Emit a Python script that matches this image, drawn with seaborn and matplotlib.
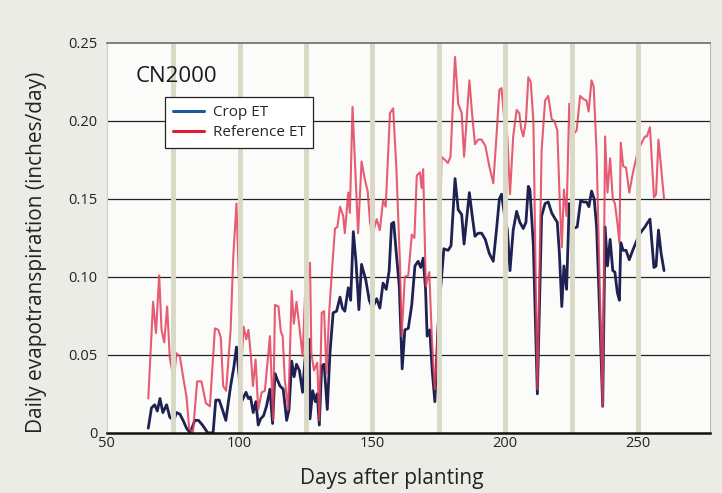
import seaborn as sns
import matplotlib.pyplot as plt
from matplotlib.lines import Line2D
import pandas

# datos (dia, valor)
dias_ref = [65.6, 67.4, 68.5, 69.7, 70.6, 71.6, 72.7, 73.7, 75.2, 76.2, 77.5, 78.7, 80.0, 81.0, 82.4,
            84.0, 85.6, 87.3, 88.8, 90.7, 92.0, 92.9, 93.8, 94.9, 96.6, 97.6, 98.8, 100.7, 101.5, 102.5,
            103.3, 104.2, 105.0, 106.0, 107.0, 108.3, 109.5, 111.4, 112.6, 113.3, 114.6, 115.5, 116.2, 117.0,
            118.3, 119.6, 120.4, 121.4, 122.5, 123.7, 124.6, 126.5, 127.0, 128.0, 129.2, 130.0, 130.9, 131.8,
            132.7, 133.7, 134.6, 135.9, 136.8, 137.8, 139.0, 139.6, 140.9, 141.5, 142.5, 143.5, 144.6, 145.9,
            147.2, 148.2, 149.1, 150.0, 151.6, 152.8, 154.0, 155.0, 156.6, 157.8, 159.0, 160.4, 161.0, 162.2,
            163.5, 164.8, 165.8, 166.7, 167.9, 168.5, 169.1, 170.1, 171.4, 172.4, 173.5, 174.3, 175.1, 176.0,
            177.3, 178.4, 179.4, 181.1, 182.3, 183.6, 184.5, 186.5, 187.5, 188.6, 189.8, 191.1, 192.5, 194.0,
            195.5, 196.7, 197.8, 198.6, 199.7, 200.8, 201.8, 203.0, 204.3, 205.3, 206.0, 206.8, 207.8, 208.7,
            209.6, 210.6, 212.1, 213.7, 215.0, 216.2, 217.5, 218.5, 219.6, 220.6, 221.3, 222.1, 223.1, 224.1,
            225.0, 226.9, 228.2, 229.4, 230.6, 231.4, 232.5, 233.3, 234.4, 235.5, 236.7, 237.6, 238.5, 239.5,
            240.5, 241.3, 242.2, 243.0, 243.5, 244.4, 245.5, 246.7, 248.0, 249.7, 250.8, 252.6, 253.3, 254.5,
            256.0, 256.8, 257.7, 258.7, 259.8]
et_ref = [0.022, 0.084, 0.064, 0.101, 0.066, 0.058, 0.081, 0.048, 0.034, 0.051, 0.049, 0.036, 0.023, 0.003, 0.000,
          0.033, 0.033, 0.019, 0.017, 0.067, 0.066, 0.061, 0.030, 0.027, 0.066, 0.113, 0.147, 0.045, 0.068, 0.060,
          0.066, 0.050, 0.030, 0.047, 0.015, 0.026, 0.027, 0.062, 0.008, 0.082, 0.081, 0.065, 0.062, 0.034,
          0.015, 0.091, 0.070, 0.084, 0.068, 0.049, 0.087, 0.109, 0.051, 0.040, 0.045, 0.008, 0.077, 0.078,
          0.038, 0.077, 0.100, 0.131, 0.132, 0.145, 0.139, 0.128, 0.154, 0.141, 0.209, 0.170, 0.128, 0.174,
          0.162, 0.155, 0.135, 0.127, 0.137, 0.130, 0.149, 0.145, 0.205, 0.208, 0.170, 0.107, 0.062, 0.100,
          0.101, 0.127, 0.125, 0.165, 0.167, 0.157, 0.169, 0.094, 0.103, 0.060, 0.028, 0.050, 0.094, 0.177,
          0.175, 0.173, 0.177, 0.241, 0.211, 0.205, 0.177, 0.226, 0.205, 0.185, 0.188, 0.188, 0.184, 0.171,
          0.160, 0.190, 0.220, 0.221, 0.200, 0.190, 0.153, 0.190, 0.207, 0.205, 0.195, 0.190, 0.200, 0.228,
          0.225, 0.200, 0.028, 0.181, 0.213, 0.216, 0.201, 0.200, 0.194, 0.145, 0.119, 0.156, 0.139, 0.211,
          0.190, 0.194, 0.216, 0.214, 0.213, 0.206, 0.226, 0.222, 0.180, 0.100, 0.017, 0.190, 0.154, 0.176,
          0.150, 0.147, 0.135, 0.122, 0.186, 0.171, 0.170, 0.154, 0.166, 0.179, 0.184, 0.190, 0.190, 0.196,
          0.151, 0.153, 0.188, 0.170, 0.150]

dias_crop = [65.6, 66.8, 68.0, 69.0, 70.0, 71.1, 72.5, 73.7, 75.2, 76.2, 77.5, 78.7, 80.0, 81.4, 83.1,
             84.5, 86.0, 88.0, 90.0, 91.0, 92.3, 93.5, 94.8, 96.6, 97.8, 98.8, 100.7, 102.4, 103.3, 104.1,
             105.1, 106.1, 107.0, 107.9, 109.0, 110.1, 111.4, 112.4, 113.3, 114.2, 115.2, 116.4, 117.7, 118.6,
             119.6, 120.5, 121.4, 122.5, 123.7, 124.6, 126.2, 126.5, 127.5, 128.5, 129.2, 130.0, 130.9, 131.8,
             133.0, 134.0, 135.2, 136.5, 137.8, 138.7, 139.6, 140.9, 141.8, 142.8, 143.8, 144.9, 145.9, 147.5,
             148.8, 150.0, 151.6, 152.8, 154.0, 155.2, 156.3, 157.2, 158.0, 159.0, 160.1, 161.2, 162.2, 163.5,
             164.8, 166.0, 167.2, 168.2, 169.1, 170.0, 170.6, 171.6, 172.5, 173.5, 174.5, 175.1, 176.9, 178.5,
             179.6, 181.1, 182.3, 183.6, 184.5, 186.5, 187.5, 188.6, 189.8, 191.1, 192.5, 194.0, 195.5, 196.7,
             197.8, 198.6, 199.7, 200.8, 201.8, 203.0, 204.3, 205.5, 206.8, 207.8, 208.7, 209.3, 210.6, 212.1,
             213.7, 215.0, 216.2, 217.5, 218.5, 219.6, 220.4, 221.3, 222.1, 223.1, 224.1, 225.6, 227.1, 228.4,
             229.5, 230.6, 231.5, 232.5, 233.5, 234.4, 235.5, 236.7, 237.6, 238.5, 239.5, 240.5, 241.3, 242.2,
             243.0, 243.5, 244.4, 245.5, 246.7, 248.0, 249.7, 250.8, 252.6, 253.3, 254.5, 256.0, 256.8, 257.7,
             258.7, 259.8]
et_crop = [0.003, 0.016, 0.018, 0.014, 0.022, 0.013, 0.018, 0.010, 0.008, 0.013, 0.012, 0.008, 0.003, 0.000, 0.008,
           0.008, 0.005, 0.000, 0.000, 0.021, 0.021, 0.015, 0.008, 0.030, 0.042, 0.055, 0.020, 0.026, 0.022, 0.023,
           0.013, 0.020, 0.005, 0.009, 0.011, 0.017, 0.028, 0.006, 0.038, 0.034, 0.030, 0.028, 0.008, 0.015,
           0.046, 0.036, 0.044, 0.040, 0.026, 0.047, 0.060, 0.009, 0.027, 0.020, 0.025, 0.005, 0.043, 0.044,
           0.015, 0.051, 0.077, 0.078, 0.087, 0.080, 0.078, 0.093, 0.085, 0.129, 0.110, 0.079, 0.108, 0.098,
           0.085, 0.080, 0.086, 0.080, 0.096, 0.092, 0.104, 0.134, 0.135, 0.115, 0.094, 0.041, 0.066, 0.067,
           0.082, 0.107, 0.110, 0.106, 0.112, 0.092, 0.062, 0.066, 0.040, 0.020, 0.060, 0.081, 0.118, 0.117,
           0.120, 0.163, 0.143, 0.140, 0.121, 0.154, 0.140, 0.126, 0.128, 0.128, 0.124, 0.115, 0.110, 0.130,
           0.150, 0.153, 0.140, 0.130, 0.104, 0.130, 0.142, 0.135, 0.131, 0.135, 0.158, 0.156, 0.120, 0.025,
           0.139, 0.147, 0.148, 0.141, 0.138, 0.135, 0.115, 0.081, 0.107, 0.092, 0.147, 0.131, 0.132, 0.149,
           0.148, 0.148, 0.145, 0.155, 0.150, 0.132, 0.080, 0.017, 0.132, 0.107, 0.124, 0.104, 0.103, 0.090,
           0.085, 0.122, 0.117, 0.117, 0.111, 0.117, 0.124, 0.128, 0.132, 0.134, 0.137, 0.106, 0.107, 0.130,
           0.115, 0.104]

barras_x = [75, 100, 125, 150, 175, 200, 225, 250]
ticks_y = [0, 0.05, 0.10, 0.15, 0.20, 0.25]
etiquetas_y = ['0', '0.05', '0.10', '0.15', '0.20', '0.25']
ticks_x = [50, 100, 150, 200, 250]

sns.set_style('white')
plt.rcParams['font.family'] = ['Open Sans', 'DejaVu Sans']

df_ref = pandas.DataFrame({'dia': dias_ref, 'et': et_ref})
df_crop = pandas.DataFrame({'dia': dias_crop, 'et': et_crop})

fig = plt.figure(figsize=(7.22, 4.93), dpi=100, facecolor='#ecece7')
ax = fig.add_axes([0.148, 0.122, 0.835, 0.791])
ax.set_facecolor('#fbfcf9')

# la roja va encima, algo transparente
sns.lineplot(data=df_crop, x='dia', y='et', ax=ax, color='#1e2152', lw=2.0, estimator=None, zorder=3)
sns.lineplot(data=df_ref, x='dia', y='et', ax=ax, color='#e2405c', lw=1.5, alpha=0.85, estimator=None, zorder=4)

# barras verticales encima de las lineas
for b in barras_x:
    ax.axvline(b, color='#d9d9c5', lw=3.5, zorder=5)

for t in ticks_y[1:-1]:
    ax.axhline(t, color='#222222', lw=0.9, zorder=2)

ax.set_xlim(50, 277)
ax.set_ylim(0, 0.25)
ax.set_xticks(ticks_x)
ax.set_yticks(ticks_y)
ax.set_yticklabels(etiquetas_y)
ax.tick_params(axis='both', labelsize=10.5, colors='#222222')
ax.tick_params(axis='x', length=0, pad=2)
ax.tick_params(axis='y', length=5, width=1, color='#333333', pad=2)

ax.spines['bottom'].set_color('#111111')
ax.spines['bottom'].set_linewidth(1.8)
ax.spines['top'].set_color('#6a6a6a')
ax.spines['top'].set_linewidth(1.2)
ax.spines['left'].set_color('#cfcfc6')
ax.spines['right'].set_color('#b8b8b0')
for s in ax.spines.values():
    s.set_zorder(6)

ax.set_xlabel('Days after planting', fontsize=15, color='#222222')
ax.set_ylabel('Daily evapotranspiration (inches/day)', fontsize=15, color='#222222')
ax.xaxis.set_label_coords(0.473, -0.09)
ax.yaxis.set_label_coords(-0.1, 0.464)

ax.text(0.048, 0.915, 'CN2000', transform=ax.transAxes, fontsize=16, color='#1a1a1a',
        va='center', ha='left', zorder=7)

handles = [Line2D([], [], color='#1a5a9e', lw=2.2), Line2D([], [], color='#e31b2f', lw=2.2)]
leg = ax.legend(handles, ['Crop ET', 'Reference ET'], loc='upper left', bbox_to_anchor=(0.097, 0.86),
                borderaxespad=0, frameon=True, fancybox=False, edgecolor='#222222', facecolor='white',
                framealpha=1, fontsize=11, handlelength=2.0, handletextpad=0.6, borderpad=0.5,
                labelspacing=0.35)
leg.set_zorder(8)
leg.get_frame().set_linewidth(0.9)

plt.savefig('out.png', dpi=100, facecolor=fig.get_facecolor())
